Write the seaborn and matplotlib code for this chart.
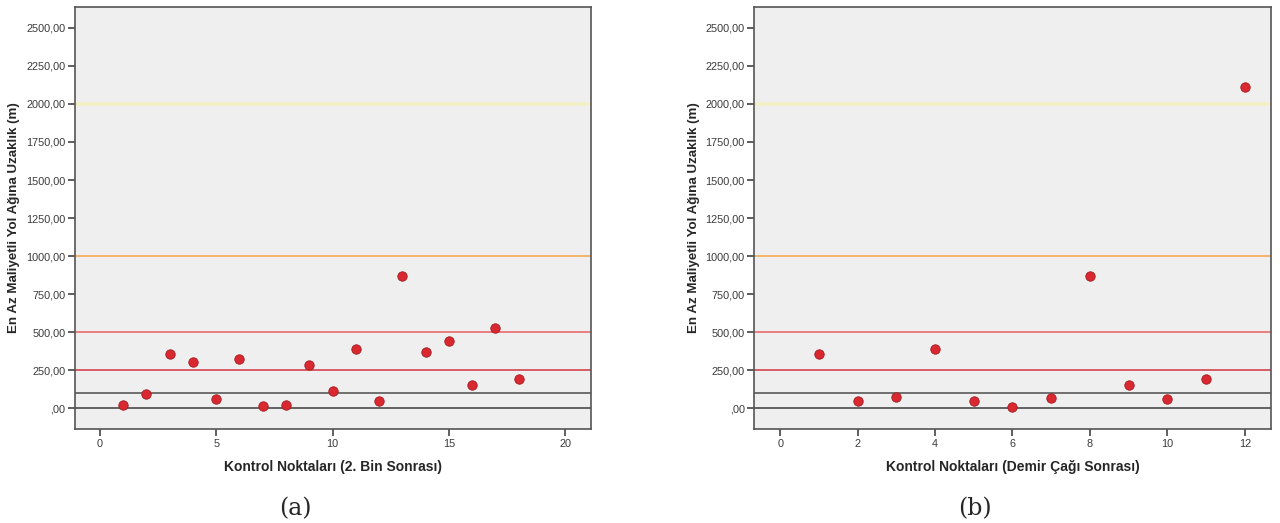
import numpy as np
import pandas as pd
import matplotlib
matplotlib.use("Agg")
import matplotlib.pyplot as plt
import seaborn as sns
from matplotlib.ticker import FuncFormatter, MultipleLocator

# --- data ---
points_a = [1, 2, 3, 4, 5, 6, 7, 8, 9, 10, 11, 12, 13, 14, 15, 16, 17, 18]
dist_a = [20, 96, 355, 304, 61, 324, 15, 20, 287, 112, 392, 46, 871, 370, 440, 153, 528, 195]

points_b = [1, 2, 3, 4, 5, 6, 7, 8, 9, 10, 11, 12]
dist_b = [355, 46, 74, 388, 46, 11, 70, 871, 151, 59, 195, 2113]

ref_levels = [0, 100, 250, 500, 1000, 2000]
ref_colors = ["#4a4a4a", "#5a5a5a", "#d2434e", "#e86a6c", "#f6b46a", "#f4f0c6"]
ref_widths = [1.2, 1.2, 1.2, 1.2, 1.4, 2.6]

y_label = "En Az Maliyetli Yol Ağına Uzaklık (m)"
x_label_a = "Kontrol Noktaları (2. Bin Sonrası)"
x_label_b = "Kontrol Noktaları (Demir Çağı Sonrası)"

sns.set_style("white")
plt.rcParams['font.family'] = ['Liberation Sans', 'DejaVu Sans']


def tr_fmt(v, pos):
    # Turkish decimal comma, SPSS style (",00" for zero)
    if abs(v) < 1e-9:
        return ",00"
    return f"{v:.2f}".replace(".", ",")


def draw_panel(ax, xs, ys, xlabel, xlim, xstep, caption):
    ax.set_facecolor("#efefef")
    for lvl, col, lw in zip(ref_levels, ref_colors, ref_widths):
        ax.axhline(lvl, color=col, linewidth=lw, zorder=1)
    df = pd.DataFrame({"x": xs, "y": ys})
    sns.scatterplot(data=df, x="x", y="y", ax=ax, color="#d9282f",
                    edgecolor="#a01c22", linewidth=0.6, s=46, zorder=3)
    ax.set_xlim(*xlim)
    ax.set_ylim(-136, 2637)
    ax.yaxis.set_major_locator(MultipleLocator(250))
    ax.xaxis.set_major_locator(MultipleLocator(xstep))
    ax.yaxis.set_major_formatter(FuncFormatter(tr_fmt))
    ax.tick_params(axis="both", direction="out", length=5, width=1.2,
                   color="#444444", labelsize=7.8, labelcolor="#3a3a3a",
                   left=True, bottom=True, pad=2)
    for sp in ax.spines.values():
        sp.set_color("#555555")
        sp.set_linewidth(1.2)
    ax.set_ylabel(y_label, fontsize=9.6, fontweight="bold")
    ax.set_xlabel(xlabel, fontsize=10, fontweight="bold")
    ax.yaxis.set_label_coords(-0.106, 0.5)
    ax.xaxis.set_label_coords(0.5, -0.073)
    ax.text(0.427, -0.19, caption, transform=ax.transAxes, ha="center",
            va="center", fontsize=17, family=["DejaVu Serif"])
    ax.grid(False)


fig = plt.figure(figsize=(12.8, 5.23), dpi=100)
ax_a = fig.add_axes([0.0586, 0.1797, 0.4029, 0.8069])
ax_b = fig.add_axes([0.5893, 0.1797, 0.4034, 0.8069])

draw_panel(ax_a, points_a, dist_a, x_label_a, (-1.07, 21.1), 5, "(a)")
draw_panel(ax_b, points_b, dist_b, x_label_b, (-0.67, 12.67), 2, "(b)")

fig.savefig("out.png", dpi=100)
plt.close(fig)
